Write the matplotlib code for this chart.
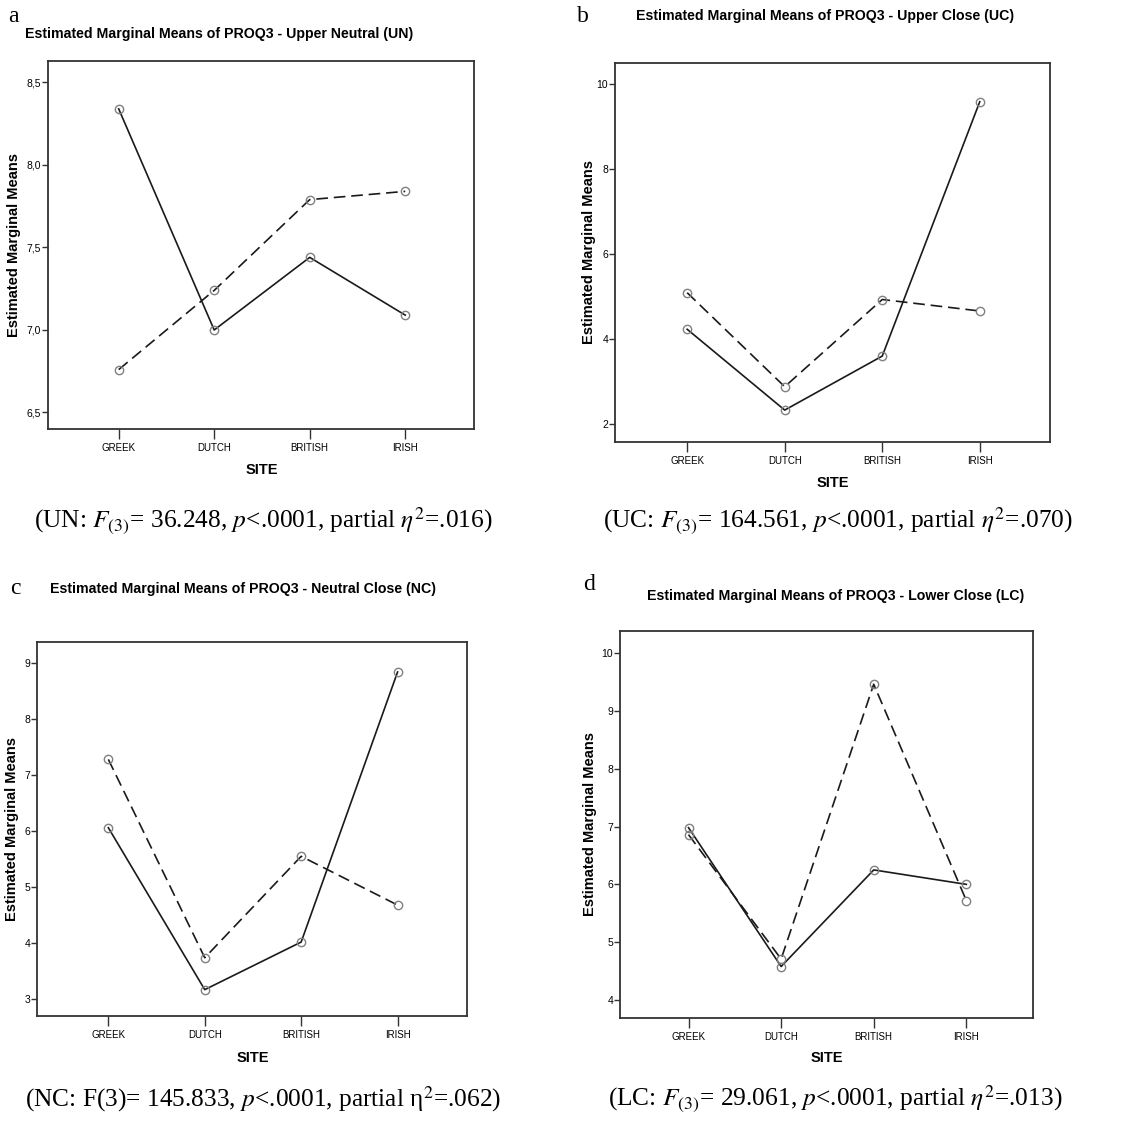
import numpy as np
import matplotlib.pyplot as plt

# values
sites = ['GREEK', 'DUTCH', 'BRITISH', 'IRISH']

un_solid = [8.34, 7.00, 7.44, 7.09]
un_dashed = [6.76, 7.24, 7.79, 7.84]
uc_solid = [4.23, 2.33, 3.60, 9.58]
uc_dashed = [5.09, 2.88, 4.93, 4.66]
nc_solid = [6.06, 3.17, 4.02, 8.84]
nc_dashed = [7.28, 3.74, 5.55, 4.68]
lc_solid = [6.98, 4.58, 6.25, 6.00]
lc_dashed = [6.86, 4.71, 9.46, 5.72]

un_ticks = [6.5, 7.0, 7.5, 8.0, 8.5]
un_ticklabels = ['6,5', '7,0', '7,5', '8,0', '8,5']
uc_ticks = [2, 4, 6, 8, 10]
nc_ticks = [3, 4, 5, 6, 7, 8, 9]
lc_ticks = [4, 5, 6, 7, 8, 9, 10]

titles = ['Estimated Marginal Means of PROQ3 - Upper Neutral (UN)',
          'Estimated Marginal Means of PROQ3 - Upper Close (UC)',
          'Estimated Marginal Means of PROQ3 - Neutral Close (NC)',
          'Estimated Marginal Means of PROQ3 - Lower Close (LC)']
captions = [r'(UN: $\mathit{F}_{(3)}$= 36.248, $\mathit{p}$<.0001, partial $\mathit{\eta}^{2}$=.016)',
            r'(UC: $\mathit{F}_{(3)}$= 164.561, $\mathit{p}$<.0001, partial $\mathit{\eta}^{2}$=.070)',
            r'(NC: F(3)= 145.833, $\mathit{p}$<.0001, partial η$^{2}$=.062)',
            r'(LC: $\mathit{F}_{(3)}$= 29.061, $\mathit{p}$<.0001, partial $\mathit{\eta}^{2}$=.013)']

plt.rcParams['mathtext.fontset'] = 'stix'
sans = ['Liberation Sans', 'DejaVu Sans']
serif = ['Liberation Serif', 'DejaVu Serif']

fig = plt.figure(figsize=(11.24, 11.23), dpi=100)

# axes boxes in pixels: left, top, right, bottom
boxes = [(48, 61, 474, 429), (615, 63, 1050, 442),
         (37, 642, 467, 1016), (620, 631, 1033, 1018)]
ylims = [(6.40, 8.63), (1.58, 10.49), (2.70, 9.375), (3.69, 10.38)]
solids = [un_solid, uc_solid, nc_solid, lc_solid]
dashes = [un_dashed, uc_dashed, nc_dashed, lc_dashed]
yticks = [un_ticks, uc_ticks, nc_ticks, lc_ticks]
yticklabels = [un_ticklabels, [str(t) for t in uc_ticks],
               [str(t) for t in nc_ticks], [str(t) for t in lc_ticks]]

letters = ['a', 'b', 'c', 'd']
letter_pos = [(8, 16), (577, 16), (10, 588), (583, 584)]
title_pos = [(219, 34), (825, 16), (243, 589), (836, 596)]
ylabel_x = [14, 589, 12, 590]
site_pos = [(262, 470), (833, 483), (253, 1058), (827, 1058)]
caption_pos = [(263, 521), (838, 521), (263, 1099), (835, 1099)]

W, H = 1124., 1123.
x = np.arange(len(sites))

for i in range(4):
    l, t, r, b = boxes[i]
    ax = fig.add_axes([l / W, 1 - b / H, (r - l) / W, (b - t) / H])
    ax.plot(x, solids[i], color='#1a1a1a', lw=1.2, marker='o', ms=6,
            mfc='none', mec='#808080', mew=1.0)
    ax.plot(x, dashes[i], color='#1a1a1a', lw=1.2, ls=(0, (7, 3.5)), marker='o', ms=6,
            mfc='none', mec='#808080', mew=1.0)
    ax.set_xlim(-0.74, 3.72)
    ax.set_ylim(*ylims[i])
    ax.set_xticks(x)
    ax.set_xticklabels(sites, family=sans, fontsize=7)
    ax.set_yticks(yticks[i])
    ax.set_yticklabels(yticklabels[i], family=sans, fontsize=7.5)
    ax.tick_params(axis='x', length=7, width=1, color='#333333', pad=3)
    ax.tick_params(axis='y', length=4, width=1, color='#333333', pad=1)
    for sp in ax.spines.values():
        sp.set_color('#333333')
        sp.set_linewidth(1.3)

    fig.text(letter_pos[i][0] / W, 1 - letter_pos[i][1] / H, letters[i],
             family=serif, fontsize=17, va='center', ha='left')
    fig.text(title_pos[i][0] / W, 1 - title_pos[i][1] / H, titles[i],
             family=sans, fontsize=10.2, weight='bold', va='center', ha='center')
    fig.text(ylabel_x[i] / W, 1 - (t + b) / 2 / H, 'Estimated Marginal Means',
             family=sans, fontsize=10.5, weight='bold', rotation=90,
             va='center', ha='center')
    fig.text(site_pos[i][0] / W, 1 - site_pos[i][1] / H, 'SITE',
             family=sans, fontsize=10.5, weight='bold', va='center', ha='center')
    fig.text(caption_pos[i][0] / W, 1 - caption_pos[i][1] / H, captions[i],
             family=serif, fontsize=18.3, va='center', ha='center')

plt.savefig('out.png', dpi=100)
